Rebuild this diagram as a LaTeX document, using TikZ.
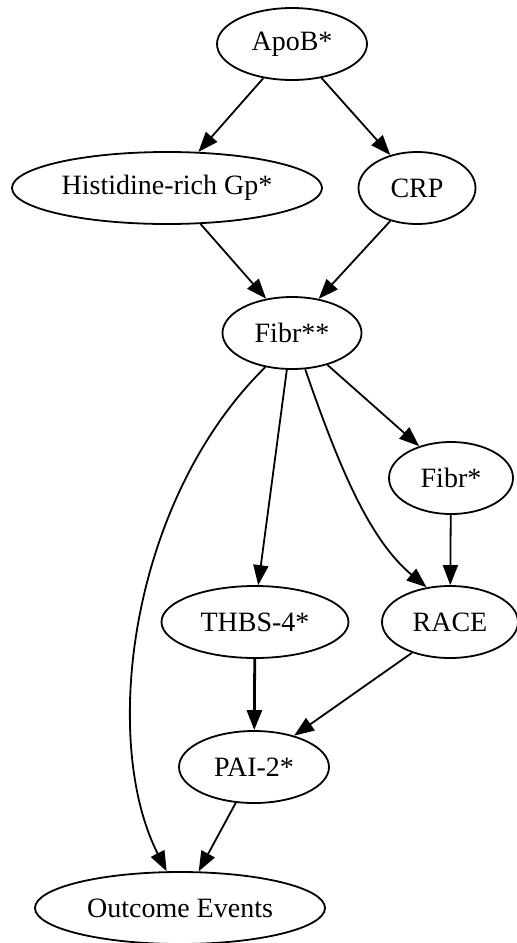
\documentclass[tikz,border=0pt]{standalone}
\usepackage{fontspec}
\setmainfont{Liberation Serif}
\usetikzlibrary{shapes.geometric,arrows.meta}

\begin{document}
\begin{tikzpicture}[x=0.5pt,y=-0.5pt,
        var/.style={draw,ellipse,line width=0.9pt,inner sep=0pt,minimum height=36pt,font=\fontsize{14}{16}\selectfont},
        edge/.style={-{Triangle[length=10pt,width=7.5pt]},line width=0.9pt}]
            \useasboundingbox (0,0) rectangle (517,943);
            \node[var,minimum width=75pt] (apob) at (292,44) {ApoB*};
            \node[var,minimum width=155pt] (hisgp) at (167,188) {Histidine-rich Gp*};
            \node[var,minimum width=58.5pt] (crp) at (417,188) {CRP};
            \node[var,minimum width=69.5pt] (fibrss) at (292,333) {Fibr**};
            \node[var,minimum width=62pt] (fibrs) at (451,478) {Fibr*};
            \node[var,minimum width=93.5pt] (thbs) at (255,622) {THBS-4*};
            \node[var,minimum width=68pt] (race) at (450,622) {RACE};
            \node[var,minimum width=75pt] (pai) at (254,767) {PAI-2*};
            \node[var,minimum width=145pt] (outcome) at (180,908) {Outcome Events};
            \draw[edge] (apob.-130) -- (hisgp.49);
            \draw[edge] (apob.-49) -- (crp.129);
            \draw[edge] (hisgp.-47) -- (fibrss.127);
            \draw[edge] (crp.-129) -- (fibrss.52);
            \draw[edge] (fibrss.-42) -- (fibrs.135);
            \draw[edge] (fibrss.-98) -- (thbs.85);
            \draw[edge] (fibrss.-70) .. controls (340,470) and (370,540) .. (race.124);
            \draw[edge] (fibrss.-128) .. controls (130,500) and (100,740) .. (outcome.110);
            \draw[edge] (fibrs) -- (race);
            \draw[edge,line width=1.4pt] (thbs) -- (pai);
            \draw[edge] (race.-141) -- (pai.38);
            \draw[edge] (pai.-117) -- (outcome.63);
        \end{tikzpicture}
\end{document}
